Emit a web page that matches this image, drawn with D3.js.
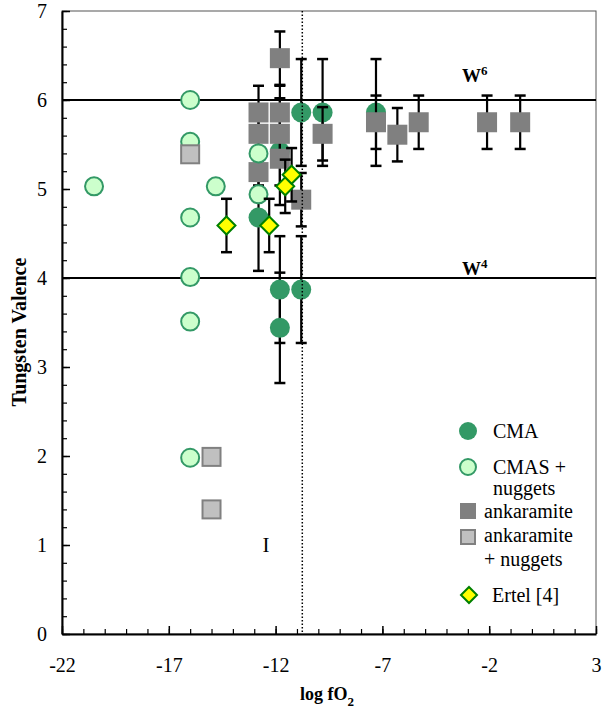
<!DOCTYPE html>
<html>
<head>
<meta charset="utf-8">
<script src="https://cdn.jsdelivr.net/npm/d3@7"></script>
<style>
  body { margin: 0; background: #fff; }
  svg, svg text { font-family: "Liberation Serif", "Times New Roman", serif; }
  text { fill: #000; }
  .tick text { font-size: 20px; }
  .ttl { font-weight: bold; font-size: 18px; }
  .leg { font-size: 20px; }
</style>
</head>
<body>
<svg id="chart" width="606" height="719"></svg>
<script>
// CMA (filled green circles)
const cmaX   = [-12.8, -11.8, -11.8, -11.8, -10.8, -10.8, -9.8, -7.3];
const cmaY   = [4.68, 5.42, 3.87, 3.44, 5.86, 3.87, 5.86, 5.86];
const cmaErr = [0.6, 0.6, 0.6, 0.62, 0.6, 0.6, 0.6, 0.6];

// CMAS + nuggets (open light circles, no error bars)
const cmasX = [-20.5, -16, -16, -16, -16, -16, -16, -14.8, -12.8, -12.8];
const cmasY = [5.03, 6.0, 5.53, 4.68, 4.01, 3.51, 1.98, 5.03, 5.40, 4.94];

// ankaramite (dark gray squares)
const ankX   = [-12.8, -12.8, -12.8, -11.8, -11.8, -11.8, -11.8, -10.8, -9.8, -7.3, -6.3, -5.3, -2.1, -0.55];
const ankY   = [5.86, 5.62, 5.19, 6.47, 5.86, 5.62, 5.34, 4.88, 5.62, 5.75, 5.61, 5.75, 5.75, 5.75];
const ankErr = [0.3, 0.3, 0.15, 0.3, 0.3, 0.3, 0.3, 0.3, 0.3, 0.3, 0.3, 0.3, 0.3, 0.3];

// ankaramite + nuggets (light gray squares)
const ankNugX = [-16, -15.0, -15.0];
const ankNugY = [5.39, 1.99, 1.40];

// Ertel [4] (yellow diamonds)
const ertelX   = [-14.3, -12.3, -11.55, -11.25];
const ertelY   = [4.59, 4.59, 5.03, 5.16];
const ertelErr = [0.3, 0.3, 0.3, 0.3];

const xTicks = [-22, -17, -12, -7, -2, 3];
const yTicks = [0, 1, 2, 3, 4, 5, 6, 7];
const valenceLines = [6, 4];
const valenceLabels = ['6', '4'];
const fo2Ref = -10.75;

const margin = { top: 11, right: 10, bottom: 85, left: 62 };
const W = 606, H = 719;

const svg = d3.select('#chart');
const x = d3.scaleLinear().domain([-22, 3]).range([margin.left, W - margin.right]);
const y = d3.scaleLinear().domain([0, 7]).range([H - margin.bottom, margin.top]);

const C_DARK = '#339966', C_LIGHT = '#ccffcc';
const zip = (xs, ys, es) => xs.map((v, i) => ({ x: v, y: ys[i], e: es ? es[i] : 0 }));
const plain = d => String(d);   // hyphen minus, no decimals

// frame (top/right)
svg.append('rect')
  .attr('x', x(-22)).attr('y', y(7))
  .attr('width', x(3) - x(-22)).attr('height', y(0) - y(7))
  .attr('fill', 'none').attr('stroke', '#555').attr('stroke-width', 1);

// minor ticks
svg.append('g')
  .attr('transform', `translate(0,${y(0)})`)
  .call(d3.axisBottom(x).tickValues(d3.range(-22, 4, 1)).tickSize(-5).tickFormat(''))
  .call(g => g.select('.domain').remove())
  .selectAll('line').attr('stroke-width', 1.2);
svg.append('g')
  .attr('transform', `translate(${x(-22)},0)`)
  .call(d3.axisLeft(y).tickValues(d3.range(0, 7.01, 0.2)).tickSize(-5).tickFormat(''))
  .call(g => g.select('.domain').remove())
  .selectAll('line').attr('stroke-width', 1.2);

// major axes
svg.append('g')
  .attr('transform', `translate(0,${y(0)})`)
  .call(d3.axisBottom(x).tickValues(xTicks).tickFormat(plain)
    .tickSizeInner(-8).tickSizeOuter(0).tickPadding(24))
  .attr('font-family', null)
  .call(g => g.select('.domain').attr('stroke-width', 2))
  .call(g => g.selectAll('line').attr('stroke-width', 1.5))
  .call(g => g.selectAll('text').attr('fill', '#000'));
svg.append('g')
  .attr('transform', `translate(${x(-22)},0)`)
  .call(d3.axisLeft(y).tickValues(yTicks).tickFormat(plain)
    .tickSizeInner(-8).tickSizeOuter(0).tickPadding(15))
  .attr('font-family', null)
  .call(g => g.select('.domain').attr('stroke-width', 2))
  .call(g => g.selectAll('line').attr('stroke-width', 1.5))
  .call(g => g.selectAll('text').attr('fill', '#000'));

// W6 / W4 reference lines
valenceLines.forEach((v, i) => {
  svg.append('line')
    .attr('x1', x(-22)).attr('x2', x(3)).attr('y1', y(v)).attr('y2', y(v))
    .attr('stroke', '#000').attr('stroke-width', 2);
  const t = svg.append('text').attr('x', 462).attr('y', y(v) - (v === 6 ? 18 : 3))
    .attr('class', 'ttl').style('font-size', '19px');
  t.append('tspan').text('W');
  t.append('tspan').attr('dy', -7).style('font-size', '13px').text(valenceLabels[i]);
});

// error bars
function errBars(data, sw) {
  const g = svg.append('g');
  data.filter(d => d.e > 0).forEach(d => {
    g.append('line').attr('x1', x(d.x)).attr('x2', x(d.x))
      .attr('y1', y(d.y - d.e)).attr('y2', y(d.y + d.e))
      .attr('stroke', '#000').attr('stroke-width', sw);
    [d.y - d.e, d.y + d.e].forEach(v => g.append('line')
      .attr('x1', x(d.x) - 5.5).attr('x2', x(d.x) + 5.5).attr('y1', y(v)).attr('y2', y(v))
      .attr('stroke', '#000').attr('stroke-width', 2.5));
  });
}

const cma = zip(cmaX, cmaY, cmaErr);
const cmas = zip(cmasX, cmasY);
const ank = zip(ankX, ankY, ankErr);
const ankNug = zip(ankNugX, ankNugY);
const ertel = zip(ertelX, ertelY, ertelErr);

errBars(cma, 2.2);
svg.append('g').selectAll('circle').data(cma).join('circle')
  .attr('cx', d => x(d.x)).attr('cy', d => y(d.y)).attr('r', 10)
  .attr('fill', C_DARK);

errBars(ank, 2.2);
svg.append('g').selectAll('rect').data(ank).join('rect')
  .attr('x', d => x(d.x) - 10).attr('y', d => y(d.y) - 10)
  .attr('width', 20).attr('height', 20).attr('fill', '#808080');

svg.append('g').selectAll('circle').data(cmas).join('circle')
  .attr('cx', d => x(d.x)).attr('cy', d => y(d.y)).attr('r', 9)
  .attr('fill', C_LIGHT).attr('stroke', C_DARK).attr('stroke-width', 2);

svg.append('g').selectAll('rect').data(ankNug).join('rect')
  .attr('x', d => x(d.x) - 9).attr('y', d => y(d.y) - 9)
  .attr('width', 18).attr('height', 18)
  .attr('fill', '#c0c0c0').attr('stroke', '#808080').attr('stroke-width', 2);

errBars(ertel, 2.2);
const diamond = 'M0,-9L9,0L0,9L-9,0Z';
svg.append('g').selectAll('path').data(ertel).join('path')
  .attr('transform', d => `translate(${x(d.x)},${y(d.y)})`)
  .attr('d', diamond).attr('fill', '#ffff00').attr('stroke', '#008000').attr('stroke-width', 2);

// dotted reference at log fO2
svg.append('line')
  .attr('x1', x(fo2Ref)).attr('x2', x(fo2Ref)).attr('y1', y(7)).attr('y2', y(0))
  .attr('stroke', '#000').attr('stroke-width', 1.5).attr('stroke-dasharray', '1.5,2');

svg.append('text').attr('x', 266).attr('y', 552).attr('text-anchor', 'middle')
  .style('font-size', '21px').text('I');

// axis titles
const xt = svg.append('text').attr('class', 'ttl').attr('x', 327).attr('y', 700).attr('text-anchor', 'middle');
xt.append('tspan').text('log fO');
xt.append('tspan').attr('dy', 6).style('font-size', '13px').text('2');
svg.append('text').attr('class', 'ttl').style('font-size', '20px')
  .attr('transform', 'translate(26,332) rotate(-90)')
  .attr('text-anchor', 'middle').text('Tungsten Valence');

// legend
const lg = svg.append('g');
lg.append('circle').attr('cx', 468).attr('cy', 431).attr('r', 9).attr('fill', C_DARK);
lg.append('text').attr('class', 'leg').attr('x', 493).attr('y', 438).text('CMA');
lg.append('circle').attr('cx', 468).attr('cy', 467).attr('r', 8)
  .attr('fill', C_LIGHT).attr('stroke', C_DARK).attr('stroke-width', 2);
lg.append('text').attr('class', 'leg').attr('x', 493).attr('y', 474).text('CMAS +');
lg.append('text').attr('class', 'leg').attr('x', 493).attr('y', 495).text('nuggets');
lg.append('rect').attr('x', 460).attr('y', 503).attr('width', 16).attr('height', 16).attr('fill', '#808080');
lg.append('text').attr('class', 'leg').attr('x', 484).attr('y', 518).text('ankaramite');
lg.append('rect').attr('x', 461).attr('y', 530).attr('width', 14).attr('height', 14)
  .attr('fill', '#c0c0c0').attr('stroke', '#808080').attr('stroke-width', 2);
lg.append('text').attr('class', 'leg').attr('x', 484).attr('y', 542).text('ankaramite');
lg.append('text').attr('class', 'leg').attr('x', 484).attr('y', 566).text('+ nuggets');
lg.append('path').attr('transform', 'translate(469,595)').attr('d', 'M0,-8L8,0L0,8L-8,0Z')
  .attr('fill', '#ffff00').attr('stroke', '#008000').attr('stroke-width', 2);
lg.append('text').attr('class', 'leg').attr('x', 492).attr('y', 602).text('Ertel [4]');
</script>
</body>
</html>
